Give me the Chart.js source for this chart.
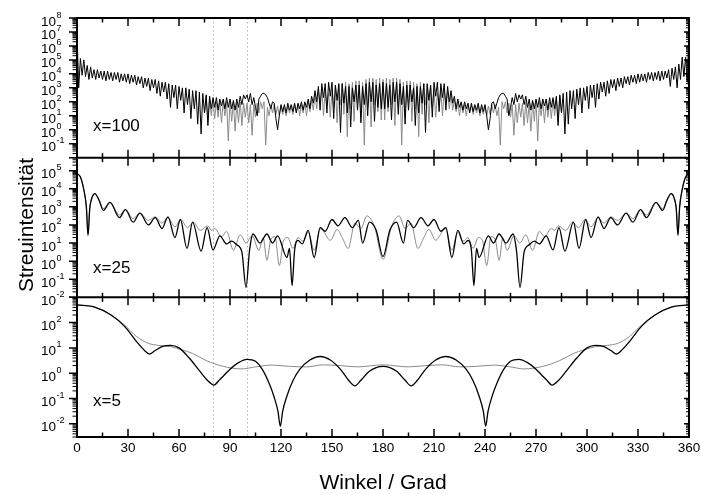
<!DOCTYPE html>
<html>
<head>
<meta charset="utf-8">
<script src="https://cdn.jsdelivr.net/npm/chart.js@4/dist/chart.umd.min.js"></script>
<style>
  html, body { margin: 0; padding: 0; background: #fff; }
  #wrap { width: 701px; height: 494px; }
</style>
</head>
<body>
<div id="wrap"><canvas id="mie" width="701" height="494"></canvas></div>
<script>
// Scattering intensity vs angle, three size parameters.
// All intensities are stored as log10 values.

const xTicks = [0, 30, 60, 90, 120, 150, 180, 210, 240, 270, 300, 330, 360];
const xMinorTicks = [15, 45, 75, 105, 135, 165, 195, 225, 255, 285, 315, 345];
const guideAngles = [80, 100];
const panelLabels = ['x=100', 'x=25', 'x=5'];
const expTop = [-1, 0, 1, 2, 3, 4, 5, 6, 7, 8];
const expMid = [-2, -1, 0, 1, 2, 3, 4, 5];
const expBot = [-2, -1, 0, 1, 2];

// x = 100, one value per degree from 0 to 360
const step100 = 1;
const black100 = [
  7.0, 3.0, 5.1, 3.9, 5.0, 3.8, 4.6, 3.6, 4.5, 3.7,
  4.3, 3.6, 4.3, 3.7, 4.2, 3.6, 4.2, 3.5, 4.2, 3.6,
  4.1, 3.5, 4.1, 3.6, 4.1, 3.4, 4.0, 3.5, 4.0, 3.4,
  4.0, 3.3, 3.9, 3.4, 3.9, 3.2, 3.8, 3.3, 3.8, 3.0,
  3.7, 3.1, 3.7, 2.8, 3.6, 3.0, 3.6, 2.6, 3.5, 2.4,
  3.4, 2.7, 3.4, 2.2, 3.3, 1.6, 3.2, 2.3, 3.2, 1.5,
  3.1, 2.1, 3.0, 1.2, 3.0, 1.8, 2.9, 0.8, 2.8, 1.5,
  2.8, 0.4, 2.7, -0.3, 2.6, 1.2, 2.5, 0.3, 2.4, 1.5,
  2.3, 1.6, 2.3, 1.4, 2.2, 1.7, 2.2, 1.5, 2.3, 1.6,
  2.2, 1.5, 2.1, 1.4, 2.2, 1.6, 2.4, 1.8, 2.5, 2.2,
  2.5, 2.0, 2.6, 1.8, 2.3, 1.6, 1.0, 2.2, 2.4, 2.6,
  2.6, 2.5, 2.3, 1.9, 1.5, 2.0, 1.9, 0.8, 0.0, 1.0,
  1.8, 1.3, 1.8, 1.2, 1.9, 1.4, 1.8, 1.3, 1.9, 1.2,
  1.9, 1.5, 2.0, 1.4, 2.0, 1.6, 2.2, 1.5, 2.4, 1.9,
  2.8, 2.0, 3.1, 1.4, 3.3, 2.3, 3.3, 1.2, 3.4, 2.4,
  3.4, 0.8, 3.2, 2.1, 3.3, -0.2, 3.3, 1.9, 3.1, 1.2,
  3.1, 0.2, 3.0, 2.0, 3.2, 1.4, 3.2, 0.5, 3.1, 1.8,
  3.3, 1.0, 3.4, 2.0, 3.4, 0.6, 3.2, 1.6, 3.3, 1.5,
  3.4, 1.5, 3.3, 1.6, 3.2, 0.7, 3.4, 2.0, 3.4, 1.1,
  3.3, 1.8, 3.1, 0.4, 3.2, 1.4, 3.2, 2.0, 3.0, 0.3,
  3.1, 1.2, 3.1, 1.9, 3.3, -0.2, 3.3, 2.1, 3.2, 0.9,
  3.4, 2.4, 3.4, 1.3, 3.3, 2.3, 3.3, 1.4, 3.1, 2.0,
  2.8, 1.9, 2.4, 1.5, 2.2, 1.6, 2.0, 1.4, 2.0, 1.5,
  1.9, 1.2, 1.9, 1.3, 1.8, 1.4, 1.9, 1.2, 1.8, 1.3,
  1.8, 1.0, 0.0, 0.8, 1.9, 2.0, 1.5, 1.9, 2.3, 2.5,
  2.6, 2.6, 2.4, 2.2, 1.0, 1.6, 2.3, 1.8, 2.6, 2.0,
  2.5, 2.2, 2.5, 1.8, 2.4, 1.6, 2.2, 1.4, 2.1, 1.5,
  2.2, 1.6, 2.3, 1.5, 2.2, 1.7, 2.2, 1.4, 2.3, 1.6,
  2.3, 1.5, 2.4, 0.3, 2.5, 1.2, 2.6, -0.3, 2.7, 0.4,
  2.8, 1.5, 2.8, 0.8, 2.9, 1.8, 3.0, 1.2, 3.0, 2.1,
  3.1, 1.5, 3.2, 2.3, 3.2, 1.6, 3.3, 2.2, 3.4, 2.7,
  3.4, 2.4, 3.5, 2.6, 3.6, 3.0, 3.6, 2.8, 3.7, 3.1,
  3.7, 3.0, 3.8, 3.3, 3.8, 3.2, 3.9, 3.4, 3.9, 3.3,
  4.0, 3.4, 4.0, 3.5, 4.0, 3.4, 4.1, 3.6, 4.1, 3.5,
  4.1, 3.6, 4.2, 3.5, 4.2, 3.6, 4.2, 3.7, 4.3, 3.1,
  4.4, 3.6, 4.5, 3.0, 4.7, 3.6, 5.2, 3.8, 5.2, 3.4,
  7.4
];
// grey curve only differs between 75 and 285 degrees
const gray100Start = 75;
const gray100 = [
  1.2, 2.4, 0.6, 2.3, 1.0, 2.1, 0.8, 2.0, 0.9, 2.0,
  0.5, 2.0, 1.0, 2.0, -0.8, 2.1, 0.6, 2.0, -0.1, 1.9,
  0.5, 2.0, 0.3, 1.9, 0.9, 1.9, 0.5, 1.8, -0.4, 1.8,
  0.9, 1.9, 1.2, 2.0, 1.5, 2.0, -1.1, 1.6, 1.0, 1.8,
  1.2, 1.8, 1.1, 1.7, 1.0, 1.7, 1.1, 1.6, 1.0, 1.7,
  1.2, 1.7, 1.1, 1.8, 1.3, 1.8, 1.0, 1.8, 1.2, 1.9,
  1.0, 2.0, 1.3, 2.1, 1.4, 2.5, 1.5, 2.8, 1.9, 2.9,
  1.0, 2.8, 1.7, 2.6, 0.9, 2.9, 1.6, 3.1, 0.5, 3.2,
  1.8, 3.3, 1.1, 3.4, -0.5, 3.3, 1.5, 3.4, 0.6, 3.5,
  1.9, 3.5, 0.9, 3.4, -1.1, 3.6, 1.6, 3.7, 0.2, 3.7,
  1.8, 3.6, 1.3, 3.7, 0.7, 3.6, 0.7, 3.7, 1.3, 3.6,
  1.8, 3.7, 0.3, 3.7, 1.6, 3.6, -1.1, 3.4, 0.9, 3.5,
  1.9, 3.5, 0.6, 3.4, 1.5, 3.3, -0.5, 3.4, 1.1, 3.3,
  1.8, 3.2, 0.5, 3.1, 1.6, 2.9, 0.9, 2.6, 1.7, 2.8,
  1.0, 2.9, 1.9, 2.8, 1.5, 2.5, 1.4, 2.1, 1.3, 2.0,
  1.0, 1.9, 1.2, 1.8, 1.0, 1.8, 1.3, 1.8, 1.1, 1.7,
  1.2, 1.7, 1.0, 1.6, 1.1, 1.7, 1.0, 1.7, 1.1, 1.8,
  1.2, 1.8, 1.0, 1.6, -1.1, 2.0, 1.5, 2.0, 1.2, 1.9,
  0.9, 1.8, -0.4, 1.8, 0.5, 1.9, 0.9, 1.9, 0.3, 2.0,
  0.5, 1.9, -0.1, 2.0, 0.6, 2.1, -0.8, 2.0, 1.0, 2.0,
  0.5, 2.0, 0.9, 2.0, 0.8, 2.1, 1.0, 2.3, 0.6, 2.4,
  1.2
];

// x = 25, [angle, log10 intensity]
const black25 = [
  [0, 4.83], [2, 4.65], [4, 3.95], [5.5, 3.0], [6.5, 1.42], [7.5, 2.9], [9, 3.55], [10.5, 3.73],
  [13, 3.35], [15.5, 2.8], [19.4, 3.25], [25, 2.4], [28.5, 2.85], [33, 2.15], [37, 2.65], [42, 2.0],
  [46, 2.4], [50, 1.8], [53.5, 2.45], [57.6, 1.3], [60.8, 2.3], [64.7, 0.7], [68, 2.15], [73, 0.55],
  [76.5, 1.85], [80, 0.62], [84, 1.4], [88, 0.95], [91, 1.1], [94, 0.9], [97, 0.5], [99.4, -1.45],
  [101.5, 0.6], [103.5, 1.5], [107.6, 1.0], [111.7, 1.5], [115, 1.0], [118, 1.4], [123.5, 0.2],
  [125, 0.7], [126.5, -1.35], [128, 0.6], [130, 1.15], [132.5, 0.95], [136, 1.7], [139.5, 0.2],
  [143, 1.85], [146, 1.65], [150, 2.3], [153.5, 1.95], [157.6, 2.4], [162, 1.85], [165.5, 2.25],
  [168, 1.0], [172, 2.15], [176, 1.7], [180, 0.25],
  [184, 1.7], [188, 2.15], [192, 1.0], [194.5, 2.25], [198, 1.85], [202.4, 2.4], [206.5, 1.95],
  [210, 2.3], [214, 1.65], [217, 1.85], [220.5, 0.2], [224, 1.7], [227.5, 0.95], [230, 1.15],
  [232, 0.6], [233.5, -1.35], [235, 0.7], [236.5, 0.2], [242, 1.4], [245, 1.0], [248.3, 1.5],
  [252.4, 1.0], [256.5, 1.5], [258.5, 0.6], [260.6, -1.45], [263, 0.5], [266, 0.9], [269, 1.1],
  [272, 0.95], [276, 1.4], [280, 0.62], [283.5, 1.85], [287, 0.55], [292, 2.15], [295.3, 0.7],
  [299.2, 2.3], [302.4, 1.3], [306.5, 2.45], [310, 1.8], [314, 2.4], [318, 2.0], [323, 2.65],
  [327, 2.15], [331.5, 2.85], [335, 2.4], [340.6, 3.25], [344.5, 2.8], [347, 3.35], [349.5, 3.73],
  [351, 3.55], [352.5, 2.9], [353.5, 1.42], [354.5, 3.0], [356, 3.95], [358, 4.65], [360, 4.83]
];
const gray25 = [
  [0, 4.83], [2, 4.65], [4, 3.95], [5.5, 3.0], [6.5, 1.5], [7.5, 2.9], [9, 3.55], [10.5, 3.73],
  [13, 3.4], [15.5, 2.9], [19.4, 3.25], [25, 2.55], [28.5, 2.85], [33, 2.35], [37, 2.65], [42, 2.25],
  [46, 2.45], [50, 2.1], [53.5, 2.4], [57.6, 1.9], [61, 2.3], [65, 1.85], [68.5, 2.15], [72.5, 1.7],
  [77, 1.95], [79, 1.7], [81, 1.8], [85, 1.35], [88, 1.65], [92, 0.6], [96, 1.45], [99.5, 1.0],
  [103, 1.4], [107, 0.6], [109.5, 1.3], [111.7, 0.04], [114, 1.2], [116.5, 1.35], [119, -0.25],
  [121.5, 1.15], [124, 1.3], [127, 0.7], [130, 1.3], [133, 1.1], [136, 1.6], [139.5, 0.6],
  [143.5, 1.85], [146, 1.5], [149, 1.15], [153, 1.75], [156, 1.3], [159.5, 0.7], [163.5, 2.1],
  [167, 1.8], [170.5, 2.5], [175, 1.9], [180, 0.1],
  [185, 1.9], [189.5, 2.5], [193, 1.8], [196.5, 2.1], [200.5, 0.7], [204, 1.3], [207, 1.75],
  [211, 1.15], [214, 1.5], [216.5, 1.85], [220.5, 0.6], [224, 1.6], [227, 1.1], [230, 1.3],
  [233, 0.7], [236, 1.3], [238.5, 1.15], [241, -0.25], [243.5, 1.35], [246, 1.2], [248.3, 0.04],
  [250.5, 1.3], [253, 0.6], [257, 1.4], [260.5, 1.0], [264, 1.45], [268, 0.6], [272, 1.65],
  [275, 1.35], [279, 1.8], [281, 1.7], [283, 1.95], [287.5, 1.7], [291.5, 2.15], [295, 1.85],
  [299, 2.3], [302.4, 1.9], [306.5, 2.4], [310, 2.1], [314, 2.45], [318, 2.25], [323, 2.65],
  [327, 2.35], [331.5, 2.85], [335, 2.55], [340.6, 3.25], [344.5, 2.9], [347, 3.4], [349.5, 3.73],
  [351, 3.55], [352.5, 2.9], [353.5, 1.5], [354.5, 3.0], [356, 3.95], [358, 4.65], [360, 4.83]
];

// x = 5, [angle, log10 intensity]
const black5 = [
  [0, 2.70], [10, 2.62], [20, 2.30], [28, 1.85], [35, 1.25], [40, 0.88], [42.5, 0.76], [46, 0.90],
  [50, 1.05], [55, 1.10], [60, 1.00], [66, 0.60], [72, 0.10], [77, -0.30], [80.5, -0.47], [84, -0.25],
  [86, -0.12], [90, 0.16], [95, 0.42], [100, 0.55], [105, 0.47], [109, 0.15], [113, -0.4], [116, -0.95],
  [118.2, -1.5], [119.6, -2.1], [121, -1.5], [123.5, -0.9], [127, -0.3], [131, 0.15], [137, 0.52],
  [143, 0.66], [149, 0.52], [155, 0.15], [160, -0.3], [163.5, -0.5], [167, -0.28], [172, 0.08],
  [180, 0.27], [188, 0.08], [193, -0.28], [196.5, -0.5], [200, -0.3], [205, 0.15], [211, 0.52],
  [217, 0.66], [223, 0.52], [229, 0.15], [233, -0.3], [236.5, -0.9], [239, -1.5], [240.4, -2.1],
  [241.8, -1.5], [244, -0.95], [247, -0.4], [251, 0.15], [255, 0.47], [260, 0.55], [265, 0.42],
  [270, 0.16], [274, -0.12], [276, -0.25], [279.5, -0.47], [283, -0.3], [288, 0.10], [294, 0.60],
  [300, 1.00], [305, 1.10], [310, 1.05], [314, 0.90], [317.5, 0.76], [320, 0.88], [325, 1.25],
  [332, 1.85], [340, 2.30], [350, 2.62], [360, 2.70]
];
const gray5 = [
  [0, 2.70], [10, 2.62], [20, 2.30], [28, 1.90], [35, 1.45], [42, 1.18], [48, 1.10], [55, 1.05],
  [62, 0.92], [68, 0.78], [76, 0.50], [86, 0.27], [97, 0.17], [105, 0.25], [115, 0.32], [125, 0.27],
  [135, 0.25], [145, 0.33], [155, 0.30], [165, 0.25], [180, 0.33], [195, 0.25], [205, 0.30],
  [215, 0.33], [225, 0.25], [235, 0.27], [245, 0.32], [255, 0.25], [263, 0.17], [274, 0.27],
  [284, 0.50], [292, 0.78], [298, 0.92], [305, 1.05], [312, 1.10], [318, 1.18], [325, 1.45],
  [332, 1.90], [340, 2.30], [350, 2.62], [360, 2.70]
];

const FONT = "'Liberation Sans', Arial, sans-serif";
const BLACK = '#000000';
const GREY = '#8a8a8a';

function fromPairs(pairs) {
  return pairs.map(([a, v]) => ({ x: a, y: Math.pow(10, v) }));
}
function fromGrid(values, start, step) {
  return values.map((v, i) => ({ x: start + i * step, y: Math.pow(10, v) }));
}

function lineSet(data, axis, color, width, smooth, order) {
  return {
    data: data,
    yAxisID: axis,
    borderColor: color,
    borderWidth: width,
    borderJoinStyle: 'round',
    pointRadius: 0,
    tension: 0,
    cubicInterpolationMode: smooth ? 'monotone' : 'default',
    fill: false,
    order: order
  };
}

function logAxis(min, max) {
  return {
    type: 'logarithmic',
    position: 'left',
    stack: 'panels',
    stackWeight: 1,
    min: min,
    max: max,
    ticks: { display: false },
    grid: { display: false, drawTicks: false },
    border: { display: false },
    afterFit: (s) => { s.width = 77; }
  };
}

// decades and minor ticks for one log axis
function logTicks(scale) {
  const out = [];
  const lo = Math.floor(Math.log10(scale.min));
  const hi = Math.ceil(Math.log10(scale.max));
  for (let e = lo; e <= hi; e++) {
    for (let k = 1; k <= 9; k++) {
      const v = k * Math.pow(10, e);
      if (v < scale.min * 0.999 || v > scale.max * 1.001) continue;
      out.push({ v: v, major: k === 1 });
    }
  }
  return out;
}

const framePlugin = {
  id: 'frame',
  beforeDatasetsDraw(chart) {
    const { ctx, chartArea: a } = chart;
    const x = chart.scales.x;
    ctx.save();
    ctx.strokeStyle = '#b4b4b4';
    ctx.lineWidth = 1;
    ctx.setLineDash([1.5, 2.5]);
    guideAngles.forEach(g => {
      const px = Math.round(x.getPixelForValue(g)) + 0.5;
      ctx.beginPath();
      ctx.moveTo(px, a.top);
      ctx.lineTo(px, a.bottom);
      ctx.stroke();
    });
    ctx.restore();
  },
  afterDatasetsDraw(chart) {
    const { ctx, chartArea: a } = chart;
    const x = chart.scales.x;
    const panels = [chart.scales.yA, chart.scales.yB, chart.scales.yC];
    const exps = [expTop, expMid, expBot];
    ctx.save();
    ctx.strokeStyle = BLACK;
    ctx.fillStyle = BLACK;

    // frame and panel separators
    ctx.lineWidth = 2;
    ctx.strokeRect(a.left, a.top, a.right - a.left, a.bottom - a.top);
    [panels[1].top, panels[2].top].forEach(yy => {
      ctx.beginPath();
      ctx.moveTo(a.left, yy);
      ctx.lineTo(a.right, yy);
      ctx.stroke();
    });

    // angle ticks on every panel border, pointing into the panels
    const borders = [a.top, panels[1].top, panels[2].top, a.bottom];
    ctx.lineWidth = 1.5;
    const drawXTick = (val, len) => {
      const px = x.getPixelForValue(val);
      borders.forEach((b, j) => {
        ctx.beginPath();
        ctx.moveTo(px, j > 0 ? b - len : b);
        ctx.lineTo(px, j < 3 ? b + len : b);
        ctx.stroke();
      });
    };
    xTicks.forEach(v => drawXTick(v, 8));
    xMinorTicks.forEach(v => drawXTick(v, 4.5));

    // log ticks, left outward and right inward
    panels.forEach(s => {
      logTicks(s).forEach(t => {
        const py = s.getPixelForValue(t.v);
        ctx.lineWidth = t.major ? 1.5 : 1;
        const lenL = t.major ? 8 : 4.5;
        const lenR = t.major ? 5 : 3;
        ctx.beginPath();
        ctx.moveTo(a.left - lenL, py);
        ctx.lineTo(a.left, py);
        ctx.moveTo(a.right - lenR, py);
        ctx.lineTo(a.right, py);
        ctx.stroke();
      });
    });

    // power of ten labels
    ctx.textBaseline = 'alphabetic';
    panels.forEach((s, i) => {
      exps[i].forEach(e => {
        const py = s.getPixelForValue(Math.pow(10, e));
        ctx.font = '13.5px ' + FONT;
        ctx.textAlign = 'right';
        ctx.fillText('10', 56, py + 7.5);
        ctx.font = '9px ' + FONT;
        ctx.textAlign = 'left';
        ctx.fillText(String(e), 56.5, py - 0.5);
      });
    });

    // angle labels
    ctx.font = '13.5px ' + FONT;
    ctx.textAlign = 'center';
    xTicks.forEach(v => {
      ctx.fillText(String(v), x.getPixelForValue(v), a.bottom + 15);
    });

    // axis titles
    ctx.font = '21px ' + FONT;
    ctx.fillText('Winkel / Grad', (a.left + a.right) / 2, 489);
    ctx.save();
    ctx.translate(33, 225);
    ctx.rotate(-Math.PI / 2);
    ctx.fillText('Streuintensität', 0, 0);
    ctx.restore();

    // panel captions
    ctx.font = '17px ' + FONT;
    ctx.textAlign = 'left';
    const capDrop = [27, 24, 31];
    panels.forEach((s, i) => {
      ctx.fillText(panelLabels[i], a.left + 16, s.bottom - capDrop[i]);
    });
    ctx.restore();
  }
};

new Chart(document.getElementById('mie').getContext('2d'), {
  type: 'line',
  data: {
    datasets: [
      lineSet(fromGrid(black100, 0, step100), 'yA', BLACK, 1, false, 0),
      lineSet(fromGrid(gray100, gray100Start, step100), 'yA', GREY, 1, false, 1),
      lineSet(fromPairs(black25), 'yB', BLACK, 1.3, true, 0),
      lineSet(fromPairs(gray25), 'yB', GREY, 1, true, 1),
      lineSet(fromPairs(black5), 'yC', BLACK, 1.3, true, 0),
      lineSet(fromPairs(gray5), 'yC', GREY, 1, true, 1)
    ]
  },
  options: {
    responsive: false,
    animation: false,
    events: [],
    layout: { padding: { top: 18, right: 12, bottom: 0, left: 0 } },
    plugins: { legend: { display: false }, tooltip: { enabled: false } },
    scales: {
      x: {
        type: 'linear',
        min: 0,
        max: 360,
        ticks: { display: false },
        grid: { display: false, drawTicks: false },
        border: { display: false },
        afterFit: (s) => { s.height = 57; }
      },
      // later stacked axes are placed higher
      yC: logAxis(0.003, 1000),
      yB: logAxis(0.01, 5.2e5),
      yA: logAxis(0.01, 1e8)
    }
  },
  plugins: [framePlugin]
});
</script>
</body>
</html>
